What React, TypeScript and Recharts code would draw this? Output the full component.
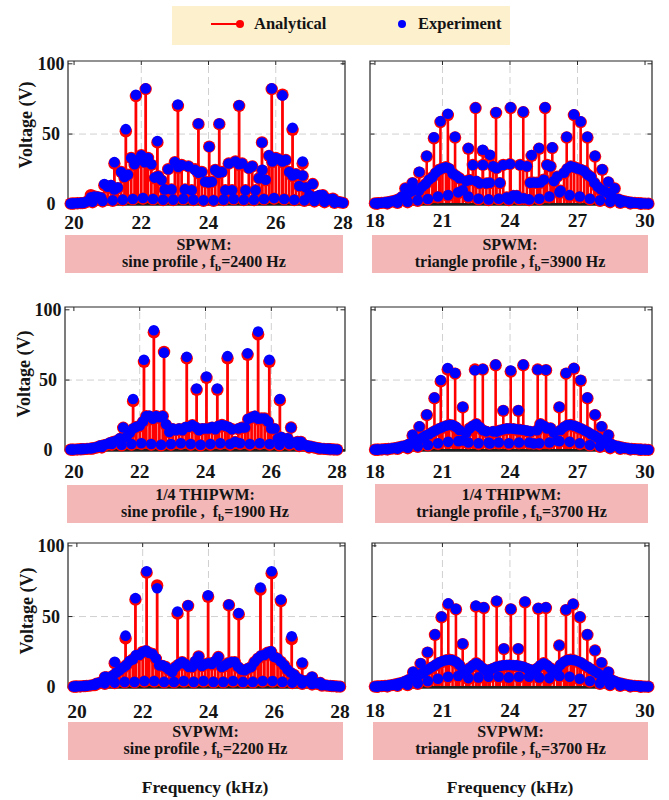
import React from 'react'
import { ComposedChart, Scatter, ErrorBar, XAxis, YAxis, ReferenceLine, ReferenceArea } from 'recharts'

const FONT = '"Liberation Serif", "Times New Roman", Times, serif'
const RED = '#ff0000'
const BLUE = '#0000ff'
const INK = '#141414'

// shared frequency grids (kHz)
const sineTicks = [20, 22, 24, 26, 28]
const triTicks = [18, 21, 24, 27, 30]
const voltTicks = [0, 50, 100]

const sineGrid = [
  19.9, 20, 20.1, 20.2, 20.3, 20.4, 20.5, 20.6, 20.7, 20.8,
  20.9, 21, 21.1, 21.2, 21.3, 21.4, 21.5, 21.6, 21.7, 21.8,
  21.9, 22, 22.1, 22.2, 22.3, 22.4, 22.5, 22.6, 22.7, 22.8,
  22.9, 23, 23.1, 23.2, 23.3, 23.4, 23.5, 23.6, 23.7, 23.8,
  23.9, 24, 24.1, 24.2, 24.3, 24.4, 24.5, 24.6, 24.7, 24.8,
  24.9, 25, 25.1, 25.2, 25.3, 25.4, 25.5, 25.6, 25.7, 25.8,
  25.9, 26, 26.1, 26.2, 26.3, 26.4, 26.5, 26.6, 26.7, 26.8,
  26.9, 27, 27.1, 27.2, 27.3, 27.4, 27.5, 27.6, 27.7, 27.8,
  27.9, 28,
]
const sineLow = [
  19.95, 20.25, 20.55, 20.85, 21.15, 21.45, 21.75, 22.05, 22.35, 22.65,
  22.95, 23.25, 23.55, 23.85, 24.15, 24.45, 24.75, 25.05, 25.35, 25.65,
  25.95, 26.25, 26.55, 26.85, 27.15, 27.45, 27.75,
]
const triGrid = [
  18, 18.15, 18.3, 18.45, 18.6, 18.75, 18.9, 19.05, 19.2, 19.35,
  19.5, 19.65, 19.8, 19.95, 20.1, 20.25, 20.4, 20.55, 20.7, 20.85,
  21, 21.15, 21.3, 21.45, 21.6, 21.75, 21.9, 22.05, 22.2, 22.35,
  22.5, 22.65, 22.8, 22.95, 23.1, 23.25, 23.4, 23.55, 23.7, 23.85,
  24, 24.15, 24.3, 24.45, 24.6, 24.75, 24.9, 25.05, 25.2, 25.35,
  25.5, 25.65, 25.8, 25.95, 26.1, 26.25, 26.4, 26.55, 26.7, 26.85,
  27, 27.15, 27.3, 27.45, 27.6, 27.75, 27.9, 28.05, 28.2, 28.35,
  28.5, 28.65, 28.8, 28.95, 29.1, 29.25, 29.4, 29.55, 29.7, 29.85,
  30, 30.15,
]
const triLow = [
  18.1, 18.55, 19, 19.45, 19.9, 20.35, 20.8, 21.25, 21.7, 22.15,
  22.6, 23.05, 23.5, 23.95, 24.4, 24.85, 25.3, 25.75, 26.2, 26.65,
  27.1, 27.55, 28, 28.45, 28.9, 29.35, 29.8,
]

// SPWM, sine profile, fb = 2400 Hz
const spwmSineGridA = [
  0.5, 0.6, 0.7, 0.8, 1, 2, 6.5, 5.5, 5, 4.5,
  13.5, 12, 13, 10, 11.5, 23, 19, 21, 33, 28,
  31, 35, 30, 33, 28, 18.5, 20, 17, 10.5, 25,
  10.5, 30, 26, 28, 10.5, 27, 10, 25, 22, 23,
  16, 15.5, 16, 24.5, 22, 23, 10, 29, 10, 30.5,
  28, 29, 10, 25.7, 27, 10, 18.5, 24, 17, 34.5,
  30, 33, 32, 30, 31.5, 23, 20, 21.5, 13, 20,
  12, 6, 14.4, 5, 6, 6.5, 4, 3, 4, 2,
  1.5, 1,
]
const spwmSineGridE = [
  0.6, 0.7, 0.8, 1, 1.2, 2.2, 5, 5.5, 5.3, 4.8,
  14.4, 12.5, 13.7, 10.5, 12, 23, 19.5, 21, 33, 28.5,
  31.5, 34.8, 30, 33, 28.5, 19, 20, 17.3, 10.6, 25,
  10.6, 30, 26.5, 28, 10.6, 27, 10, 24.5, 22.5, 23,
  16, 15.6, 16, 24.5, 22.5, 23, 10, 29, 10, 30.5,
  28.5, 29, 10, 25.7, 27, 10, 18.5, 24.5, 17.5, 34.8,
  30.5, 33, 32, 30.5, 31.6, 23, 20.5, 21.6, 13, 20.5,
  12, 6.5, 14.4, 5.5, 6.5, 6.5, 4, 3.5, 4, 2.2,
  1.6, 1.1,
]
const spwmSineLowA = [0.5, 0.8, 1.5, 2, 2.5, 3, 3.5, 4, 3.5, 3, 3, 3.5, 3, 2.5, 2.5, 3, 3.5, 3, 3, 3.5, 4, 3.5, 3, 2.5, 2, 1.5, 1]
const spwmSineLowE = [0.6, 1, 1.8, 2.3, 2.8, 3.3, 3.8, 4.5, 3.8, 3.2, 3.3, 3.8, 3.2, 2.8, 2.8, 3.3, 3.8, 3.2, 3.3, 3.8, 4.4, 3.8, 3.2, 2.8, 2.3, 1.8, 1.2]
const spwmSinePeakF = [21.2, 21.54, 21.84, 22.13, 22.48, 23.09, 23.7, 24.02, 24.32, 24.91, 25.59, 25.88, 26.2, 26.5, 26.8]
const spwmSinePeakA = [29, 52, 77, 82, 44, 70, 57, 41, 57, 70, 44, 82, 78, 53, 29]
const spwmSinePeakE = [30, 53.5, 78, 82.5, 45, 71, 57.5, 41, 57.5, 70.5, 44, 82.5, 77.5, 54.5, 30.5]

// SPWM, triangle profile, fb = 3900 Hz
const spwmTriGridA = [
  0.6, 0.8, 1, 1.2, 1.5, 2, 2.5, 3.5, 5, 11.3,
  7.5, 9, 10, 9, 12, 14.4, 17, 19.2, 22, 24.5,
  25.5, 26.4, 25, 22, 20, 18.5, 10, 16, 17.3, 28,
  16, 14.9, 28, 14.9, 15, 27, 25.7, 15, 28, 4.8,
  28.6, 6, 6, 28, 4, 27, 15.3, 15.3, 15.3, 15.3,
  17.5, 28, 27, 16, 19.7, 9.6, 22, 25, 27, 26.4,
  25.5, 24.5, 23.6, 21, 19.2, 15, 12, 10, 9, 7.5,
  6, 11.3, 3.5, 2.5, 2, 1.5, 1.2, 1, 0.8, 0.6,
  0.5, 0.4,
]
const spwmTriGridE = [
  0.7, 0.9, 1.1, 1.4, 1.7, 2.2, 2.8, 3.8, 5.5, 11.3,
  8, 9.5, 10.5, 9.5, 12.5, 14.4, 17.5, 19.2, 22.5, 24.5,
  25.7, 26.4, 25.5, 22, 20.5, 18.5, 10, 16.5, 17.3, 28,
  16.5, 14.9, 28, 14.9, 15.3, 27, 25.7, 15.3, 28, 4.8,
  28.6, 6.3, 6.3, 28, 4.3, 27, 15.3, 15.5, 15.3, 15.5,
  17.5, 28, 27, 16.5, 19.7, 9.6, 22.5, 25.5, 27, 26.4,
  25.5, 24.8, 23.6, 21, 19.5, 15.3, 12.5, 10.5, 9.3, 8,
  6.5, 11.3, 3.8, 2.8, 2.2, 1.7, 1.4, 1.1, 0.9, 0.7,
  0.6, 0.5,
]
const spwmTriLowA = [0.4, 0.6, 1, 1.5, 2.5, 3.5, 5, 6, 8, 5, 3.5, 3, 3.5, 3, 3.5, 3, 3.5, 5, 8, 6, 5, 3.5, 2.5, 1.5, 1, 0.6, 0.4]
const spwmTriLowE = [0.5, 0.7, 1.2, 1.8, 2.8, 3.8, 5.5, 6.5, 8.5, 5.5, 4, 3.5, 4, 3.5, 4, 3.5, 4, 5.5, 8.5, 6.5, 5.5, 4, 2.8, 1.8, 1.2, 0.7, 0.5]
const spwmTriPeakF = [19.67, 19.97, 20.3, 20.62, 20.91, 21.24, 21.56, 22.15, 22.47, 22.79, 23.11, 23.38, 24.03, 24.59, 24.96, 25.29, 25.56, 25.88, 26.52, 26.84, 27.14, 27.44, 27.78, 28.1, 28.37]
const spwmTriPeakA = [15, 22.5, 34, 47, 58.5, 63.5, 47.5, 39.5, 68.5, 38, 34.5, 65, 68.5, 65.5, 34.5, 39.5, 68.5, 40, 47.5, 63.5, 58.5, 47.5, 34, 24.5, 15.5]
const spwmTriPeakE = [15.3, 23.2, 34.5, 47.7, 59.2, 64.5, 48, 40, 68.8, 38.8, 35.2, 65.5, 69, 66, 35, 40, 69, 40.5, 48, 64, 59, 48, 34.5, 25, 16]

// 1/4 THIPWM, sine profile, fb = 1900 Hz
const thiSineGridA = [
  0.5, 0.5, 0.6, 0.7, 0.8, 1, 1.2, 1.5, 2, 3,
  3.5, 4, 5, 6, 6.5, 8, 16, 9.5, 12, 15,
  16.7, 17, 20, 24.3, 24, 22, 24.3, 23, 24.3, 18,
  13, 15, 14.3, 15, 14.3, 16, 16.7, 17.9, 16, 14.3,
  15, 15, 15.5, 16, 15, 17, 18, 17, 16, 15,
  6, 15, 16, 16.2, 22, 23.3, 24, 22, 22.6, 22.6,
  20, 15.5, 15, 8.3, 9, 7.6, 8, 16.2, 5, 6,
  6, 3.5, 3, 2.5, 2, 1.5, 1.2, 1, 0.8, 0.7,
  0.6, 0.5,
]
const thiSineGridE = [
  0.6, 0.6, 0.7, 0.8, 1, 1.2, 1.4, 1.8, 2.3, 3.3,
  3.8, 4.5, 5.5, 6, 7, 8.5, 16.2, 9.5, 12.5, 15.5,
  16.7, 17.5, 20.5, 24.3, 24.5, 22.5, 24.3, 23.5, 24.3, 18.5,
  13, 15.5, 14.3, 15.5, 14.3, 16.5, 16.7, 17.9, 16.5, 14.3,
  15.5, 15.5, 15.5, 16.5, 15, 17.5, 18, 17.5, 16.5, 15,
  6, 15.5, 16.2, 16.2, 22.5, 23.3, 24.5, 22.5, 22.6, 22.6,
  20.5, 15.5, 15.5, 8.3, 9.5, 7.6, 8.5, 16.2, 5.5, 6,
  6, 4, 3.3, 2.8, 2.3, 1.8, 1.4, 1.2, 1, 0.8,
  0.7, 0.6,
]
const thiSineLowA = [0.5, 0.8, 1.2, 2, 4, 3.5, 4, 4.5, 4, 3.5, 4, 4.5, 4, 3.5, 4, 4.5, 4, 4.5, 4, 4.5, 4, 3.5, 4, 3, 2, 1.2, 0.8]
const thiSineLowE = [0.6, 1, 1.5, 2.3, 4.5, 4, 4.5, 5, 4.5, 4, 4.5, 5, 4.5, 4, 4.5, 5, 4.5, 5, 4.5, 5, 4.5, 4, 4.5, 3.5, 2.3, 1.5, 1]
const thiSinePeakF = [21.8, 22.13, 22.43, 22.74, 23.43, 23.73, 24.03, 24.36, 24.67, 25.28, 25.6, 25.94, 26.26]
const thiSinePeakA = [35, 63, 84, 70, 65.5, 43, 51.5, 43, 65.5, 68, 82.5, 63, 35.5]
const thiSinePeakE = [36.5, 64.5, 85.5, 69.5, 66.5, 44, 52.5, 44, 67, 69, 84.5, 64.5, 36.5]

// 1/4 THIPWM, triangle profile, fb = 3700 Hz
const thiTriGridA = [
  0.4, 0.5, 0.6, 0.8, 1, 1.2, 1.5, 2, 2.5, 3,
  4, 5, 6, 7, 8.5, 10, 11, 12.5, 14, 15,
  16, 17, 18, 17.5, 16, 14, 7, 12, 15.5, 17,
  18.6, 16, 14, 13, 4.8, 13, 13, 14, 14.5, 15,
  15, 15, 14.5, 14.5, 14, 13.5, 13, 4.8, 14, 18.6,
  17, 15.5, 15.5, 12, 7, 14, 16, 17.5, 18, 17,
  16, 15, 14, 12.5, 11, 10, 8.5, 7, 6, 5,
  4, 3, 2.5, 2, 1.5, 1.2, 1, 0.8, 0.6, 0.5,
  0.4, 0.3,
]
const thiTriGridE = [
  0.5, 0.6, 0.7, 0.9, 1.1, 1.4, 1.7, 2.2, 2.8, 3.3,
  4.4, 5.5, 6.5, 7.5, 9, 10.5, 11.5, 13, 14.3, 15.5,
  16.5, 17.5, 18, 17.9, 16.5, 14.5, 7, 12.5, 15.5, 17.5,
  18.6, 16.5, 14.3, 13.5, 4.8, 13.5, 13.3, 14.3, 15, 15.5,
  15.5, 15.3, 15, 14.8, 14.5, 14, 13.5, 4.8, 14.3, 18.6,
  17.5, 15.5, 15.8, 12.5, 7, 14.5, 16.5, 17.9, 18, 17.5,
  16.5, 15.5, 14.3, 13, 11.5, 10.5, 9, 7.5, 6.5, 5.5,
  4.4, 3.3, 2.8, 2.2, 1.7, 1.4, 1.1, 0.9, 0.7, 0.6,
  0.5, 0.4,
]
const thiTriLowA = [0.4, 0.6, 1, 1.5, 2.5, 3.5, 4.5, 5.5, 6, 5, 4.5, 5, 5, 4.5, 5, 5, 4.5, 5, 6, 5.5, 4.5, 3.5, 2.5, 1.5, 1, 0.6, 0.4]
const thiTriLowE = [0.5, 0.7, 1.2, 1.8, 2.8, 3.8, 5, 6, 6.5, 5.5, 5, 5.5, 5.5, 5, 5.5, 5.5, 5, 5.5, 6.5, 6, 5, 3.8, 2.8, 1.8, 1.2, 0.7, 0.5]
const thiTriPeakF = [19.67, 19.97, 20.3, 20.64, 20.92, 21.23, 21.56, 21.9, 22.44, 22.79, 23.36, 23.7, 24.03, 24.37, 24.59, 25.23, 25.6, 26.19, 26.49, 26.84, 27.14, 27.44, 27.78, 28.07, 28.37]
const thiTriPeakA = [10.5, 16.5, 25, 37, 49, 57.5, 54.5, 30.5, 57.5, 57.5, 60.5, 28, 56, 28, 60.5, 57.5, 57, 30.5, 54.5, 58, 49.5, 37, 25, 16.5, 10.5]
const thiTriPeakE = [11, 17, 25.5, 37.5, 50, 58.5, 55, 31, 57, 57.8, 61, 28.5, 56.8, 28.5, 61, 57.5, 57.3, 31, 55, 58.5, 50, 37.5, 25.5, 17, 11]

// SVPWM, sine profile, fb = 2200 Hz
const svSineGridA = [
  0.5, 0.6, 0.6, 0.8, 1, 1.2, 1.5, 2.5, 3, 4,
  7, 6, 8, 10, 12, 13.5, 15.5, 18, 19.7, 22,
  22.8, 25, 25.5, 24.2, 23.5, 20, 15.5, 15, 14.3, 12,
  10.8, 14.3, 16, 17.8, 16, 14, 14.3, 18, 21.8, 15,
  16, 17, 16, 18, 21.4, 14.3, 15, 17, 17.5, 17.8,
  14, 12.5, 12, 13, 14.3, 17.8, 20, 22, 22.8, 24.5,
  25, 21.4, 20, 18, 15.5, 12, 10, 8.8, 6, 5,
  4, 4.5, 3.5, 3, 2.5, 3, 1.5, 1.2, 1, 0.8,
  0.6, 0.5,
]
const svSineGridE = [
  0.6, 0.7, 0.7, 0.9, 1.1, 1.4, 1.8, 2.8, 3.4, 4.5,
  7.3, 6.5, 8.5, 10.5, 12, 14, 15.5, 18.5, 19.7, 22.8,
  22.8, 25, 26, 24.2, 23.5, 20.5, 15.5, 15.5, 14.3, 12.5,
  10.8, 14.3, 16.5, 17.8, 16.5, 14.3, 14.3, 18.5, 21.8, 15,
  16.5, 17, 16.5, 18.5, 21.4, 14.3, 15.5, 17, 17.8, 17.8,
  14.5, 12.5, 12, 13.5, 14.3, 17.8, 20.5, 22.5, 22.8, 24.5,
  25.5, 21.4, 20.5, 18, 15.5, 12.5, 10.5, 8.8, 6.5, 5.5,
  4.5, 4.8, 3.8, 3.3, 2.8, 3.3, 1.8, 1.4, 1.1, 0.9,
  0.7, 0.6,
]
const svSineLowA = [0.5, 0.8, 1.5, 2.5, 3, 3.5, 3.5, 4, 4, 3.5, 3.5, 4, 3.5, 4, 3.5, 3.5, 4, 3.5, 3.5, 4, 4, 3.5, 3, 2.5, 2, 1.2, 0.8]
const svSineLowE = [0.6, 1, 1.8, 2.8, 3.3, 3.8, 3.8, 4.4, 4.4, 3.8, 3.8, 4.4, 3.8, 4.4, 3.8, 3.8, 4.4, 3.8, 3.8, 4.4, 4.4, 3.8, 3.3, 2.8, 2.3, 1.5, 1]
const svSinePeakF = [20.85, 21.15, 21.48, 21.78, 22.12, 22.44, 23.06, 23.38, 23.99, 24.62, 24.92, 25.58, 25.92, 26.2, 26.53, 26.85, 27.15]
const svSinePeakA = [7, 17, 34.5, 62, 81, 72, 52, 57.5, 64, 58, 51.5, 69, 80.5, 61, 34, 16.5, 7]
const svSinePeakE = [7.5, 18, 36.5, 63, 82, 70, 53.5, 58, 65, 58.5, 52.5, 70.5, 82, 62, 36, 17.5, 7.5]

// SVPWM, triangle profile, fb = 3700 Hz
const svTriGridA = [
  0.5, 0.6, 0.8, 1, 1.2, 1.5, 2, 2.5, 3, 4,
  5, 6, 7, 8, 9.5, 11, 12.5, 14, 15.5, 17,
  18, 19, 19.5, 19, 17.5, 15.5, 12, 10, 13.4, 15,
  17, 15, 13, 11, 12, 13, 14, 14.5, 15, 15,
  15.5, 15, 15, 14.5, 14, 13, 12, 11, 13, 15,
  17, 15, 13.4, 10, 12, 15.5, 17.5, 19, 19.5, 19,
  18, 17, 15.5, 14, 12.5, 11, 9.5, 8, 7, 6,
  5, 4, 3, 2.5, 2, 1.5, 1.2, 1, 0.8, 0.6,
  0.5, 0.4,
]
const svTriGridE = [
  0.6, 0.7, 0.9, 1.1, 1.4, 1.7, 2.2, 2.8, 3.3, 4.4,
  5.5, 6.5, 7.5, 8.5, 10, 11.5, 13, 14.5, 16, 17.5,
  18.5, 19.2, 19.5, 19.2, 18, 16, 12.5, 10.5, 13.4, 15.5,
  17, 15.5, 13.4, 11.5, 12.5, 13.4, 14.5, 15, 15.5, 15.7,
  15.7, 15.5, 15.5, 15, 14.5, 13.4, 12.5, 11.5, 13.4, 15.5,
  17, 15.5, 13.4, 10.5, 12.5, 16, 18, 19.2, 19.5, 19.2,
  18.5, 17.5, 16, 14.5, 13, 11.5, 10, 8.5, 7.5, 6.5,
  5.5, 4.4, 3.3, 2.8, 2.2, 1.7, 1.4, 1.1, 0.9, 0.7,
  0.6, 0.5,
]
const svTriLowA = [0.4, 0.6, 1, 1.5, 2.5, 4, 5.5, 7, 7.5, 6, 6.5, 7, 7, 6.5, 7, 7, 6.5, 6, 7.5, 7, 5.5, 4, 2.5, 1.5, 1, 0.6, 0.4]
const svTriLowE = [0.5, 0.7, 1.2, 1.8, 2.8, 4.4, 6, 7.5, 8, 6.5, 7, 7.5, 7.5, 7, 7.5, 7.5, 7, 6.5, 8, 7.5, 6, 4.4, 2.8, 1.8, 1.2, 0.7, 0.5]
const svTriPeakF = [19.7, 20.03, 20.34, 20.67, 20.96, 21.26, 21.6, 21.9, 22.49, 22.84, 23.41, 23.73, 24.04, 24.37, 24.67, 25.26, 25.6, 26.19, 26.49, 26.81, 27.11, 27.44, 27.78, 28.07, 28.37]
const svTriPeakA = [10.5, 16.5, 24.5, 37, 49.5, 58.5, 55, 30.5, 57, 56, 60.5, 27, 55, 27, 60, 55.5, 56, 29.5, 54.5, 58.5, 49.5, 37, 26, 17, 10.5]
const svTriPeakE = [11, 17, 25, 37.4, 50, 59.3, 55.4, 30.9, 57.7, 56.6, 61.2, 27.4, 55.4, 27.4, 60.6, 56, 56.6, 29.7, 55, 59, 50, 37.4, 26.2, 17.5, 11]

type Row = { f: number; a: number; e: number; stem: [number, number] }
type Part = [number[], number[], number[]]

function buildRows(parts: Part[]): Row[] {
  const rows: Row[] = []
  parts.forEach(([fs, as, es]) => {
    fs.forEach((f, i) => rows.push({ f, a: as[i], e: es[i], stem: [as[i], 0] }))
  })
  return rows.sort((p, q) => p.f - q.f)
}

const Y_MIN = -0.5
const Y_MAX = 102
const Y_AXIS_W = 40
const X_AXIS_H = 36
const M_TOP = 16
const M_RIGHT = 10

const panels = [
  {
    id: 'spwm-sine', left: 68, top: 61, w: 277, h: 144, domain: [19.82, 28.06], ticks: sineTicks,
    tickGap: 17, showY: true, stemW: 2.8,
    title: 'SPWM:', profile: 'sine profile , f', fb: '=2400 Hz', box: [65, 235, 278, 38],
    rows: buildRows([[sineGrid, spwmSineGridA, spwmSineGridE], [sineLow, spwmSineLowA, spwmSineLowE], [spwmSinePeakF, spwmSinePeakA, spwmSinePeakE]]),
  },
  {
    id: 'spwm-tri', left: 370, top: 61, w: 282, h: 144, domain: [17.78, 30.31], ticks: triTicks,
    tickGap: 15, showY: false, stemW: 2.6,
    title: 'SPWM:', profile: 'triangle profile , f', fb: '=3900 Hz', box: [372, 235, 276, 38],
    rows: buildRows([[triGrid, spwmTriGridA, spwmTriGridE], [triLow, spwmTriLowA, spwmTriLowE], [spwmTriPeakF, spwmTriPeakA, spwmTriPeakE]]),
  },
  {
    id: 'thi-sine', left: 65, top: 307, w: 280, h: 144, domain: [19.73, 28.24], ticks: sineTicks,
    tickGap: 20, showY: true, stemW: 2.8,
    title: '1/4 THIPWM:', profile: 'sine profile ,  f', fb: '=1900 Hz', box: [67, 485, 276, 38],
    rows: buildRows([[sineGrid, thiSineGridA, thiSineGridE], [sineLow, thiSineLowA, thiSineLowE], [thiSinePeakF, thiSinePeakA, thiSinePeakE]]),
  },
  {
    id: 'thi-tri', left: 371, top: 307, w: 281, h: 144, domain: [17.82, 30.31], ticks: triTicks,
    tickGap: 20, showY: false, stemW: 2.6,
    title: '1/4 THIPWM:', profile: 'triangle profile , f', fb: '=3700 Hz', box: [375, 484, 273, 39],
    rows: buildRows([[triGrid, thiTriGridA, thiTriGridE], [triLow, thiTriLowA, thiTriLowE], [thiTriPeakF, thiTriPeakA, thiTriPeakE]]),
  },
  {
    id: 'sv-sine', left: 68, top: 543, w: 277, h: 145, domain: [19.73, 28.15], ticks: sineTicks,
    tickGap: 23, showY: true, stemW: 2.8,
    title: 'SVPWM:', profile: 'sine profile , f', fb: '=2200 Hz', box: [68, 722, 275, 38],
    rows: buildRows([[sineGrid, svSineGridA, svSineGridE], [sineLow, svSineLowA, svSineLowE], [svSinePeakF, svSinePeakA, svSinePeakE]]),
  },
  {
    id: 'sv-tri', left: 372, top: 543, w: 277, h: 145, domain: [17.87, 30.18], ticks: triTicks,
    tickGap: 22, showY: false, stemW: 2.6,
    title: 'SVPWM:', profile: 'triangle profile , f', fb: '=3700 Hz', box: [373, 722, 275, 38],
    rows: buildRows([[triGrid, svTriGridA, svTriGridE], [triLow, svTriLowA, svTriLowE], [svTriPeakF, svTriPeakA, svTriPeakE]]),
  },
]

const RedDot = (p: any) => <circle cx={p.cx} cy={p.cy} r={6.2} fill={RED} />
const BlueDot = (p: any) => <circle cx={p.cx} cy={p.cy} r={5.3} fill={BLUE} />

const XTick = (p: any) => (
  <text x={p.x} y={p.y} textAnchor="middle" dominantBaseline="central" fontFamily={FONT} fontWeight="bold" fontSize={19.5} fill={INK}>
    {p.payload.value}
  </text>
)
const YTick = (p: any) => (
  <text x={p.x} y={p.y} textAnchor="middle" dominantBaseline="central" fontFamily={FONT} fontWeight="bold" fontSize={18} fill={INK}>
    {p.payload.value}
  </text>
)

const GRID = '#d0d0d0'
const FRAME = '#262626'

function Panel({ p }: { p: (typeof panels)[number] }) {
  const [x0, x1] = p.domain
  const tx = (x1 - x0) * 0.016
  const ty = (Y_MAX - Y_MIN) * 0.028
  const inner = p.ticks.slice(1, -1)
  return (
    <div style={{ position: 'absolute', left: p.left - Y_AXIS_W, top: p.top - M_TOP }}>
      <ComposedChart
        width={p.w + Y_AXIS_W + M_RIGHT}
        height={p.h + M_TOP + X_AXIS_H}
        margin={{ top: M_TOP, right: M_RIGHT, bottom: 0, left: 0 }}
      >
        <XAxis
          type="number" dataKey="f" domain={p.domain} ticks={p.ticks} interval={0}
          height={X_AXIS_H} axisLine={false} tickLine={false} tickSize={0} tickMargin={p.tickGap} tick={XTick}
        />
        <YAxis
          type="number" domain={[Y_MIN, Y_MAX]} ticks={voltTicks} interval={0}
          width={Y_AXIS_W} axisLine={false} tickLine={false} tickSize={0} tickMargin={17}
          tick={p.showY ? YTick : false}
        />
        {inner.map(g => (
          <ReferenceLine key={'g' + g} x={g} stroke={GRID} strokeDasharray="7 4" strokeWidth={1} />
        ))}
        <ReferenceLine y={50} stroke={GRID} strokeDasharray="7 4" strokeWidth={1} />
        {/* inward tick marks */}
        {p.ticks.map(t => (
          <ReferenceLine key={'tb' + t} segment={[{ x: t, y: Y_MIN }, { x: t, y: Y_MIN + ty }]} stroke={FRAME} strokeWidth={1} />
        ))}
        {p.ticks.map(t => (
          <ReferenceLine key={'tt' + t} segment={[{ x: t, y: Y_MAX }, { x: t, y: Y_MAX - ty }]} stroke={FRAME} strokeWidth={1} />
        ))}
        {voltTicks.map(t => (
          <ReferenceLine key={'tl' + t} segment={[{ x: x0, y: t }, { x: x0 + tx, y: t }]} stroke={FRAME} strokeWidth={1} />
        ))}
        {voltTicks.map(t => (
          <ReferenceLine key={'tr' + t} segment={[{ x: x1, y: t }, { x: x1 - tx, y: t }]} stroke={FRAME} strokeWidth={1} />
        ))}
        <ReferenceArea x1={x0} x2={x1} y1={Y_MIN} y2={Y_MAX} fill="none" stroke={FRAME} strokeWidth={1.2} />
        <Scatter data={p.rows} dataKey="a" isAnimationActive={false} shape={RedDot} legendType="none">
          <ErrorBar dataKey="stem" direction="y" width={0} stroke={RED} strokeWidth={p.stemW} isAnimationActive={false} />
        </Scatter>
        <Scatter data={p.rows} dataKey="e" isAnimationActive={false} shape={BlueDot} legendType="none" />
        <ReferenceLine y={0} stroke="#1e1e1e" strokeWidth={2.5} />
      </ComposedChart>
    </div>
  )
}

function Caption({ p }: { p: (typeof panels)[number] }) {
  const [x, y, w, h] = p.box
  return (
    <div
      style={{
        position: 'absolute', left: x, top: y, width: w, height: h, background: '#f3b7b7',
        display: 'flex', flexDirection: 'column', alignItems: 'center', justifyContent: 'center',
        fontFamily: FONT, fontWeight: 'bold', fontSize: 16, lineHeight: '17px', color: INK, whiteSpace: 'pre',
      }}
    >
      <div>{p.title}</div>
      <div>
        {p.profile}
        <span style={{ fontSize: 11, position: 'relative', top: 4 }}>b</span>
        {p.fb}
      </div>
    </div>
  )
}

const textStyle: React.CSSProperties = { fontFamily: FONT, fontWeight: 'bold', color: INK, position: 'absolute', whiteSpace: 'nowrap' }

export default function App() {
  return (
    <div style={{ position: 'absolute', left: 0, top: 0, width: 669, height: 800, background: '#fff', overflow: 'hidden' }}>
      {/* legend */}
      <div style={{ position: 'absolute', left: 172, top: 6, width: 338, height: 39, background: '#fdf0cd' }}>
        <div style={{ position: 'absolute', left: 39, top: 17, width: 30, height: 2, background: RED }} />
        <div style={{ position: 'absolute', left: 64, top: 14, width: 8, height: 8, borderRadius: 4, background: RED }} />
        <div style={{ ...textStyle, left: 82, top: 8, fontSize: 16.5, lineHeight: '20px' }}>Analytical</div>
        <div style={{ position: 'absolute', left: 226, top: 14, width: 8, height: 8, borderRadius: 4, background: BLUE }} />
        <div style={{ ...textStyle, left: 246, top: 8, fontSize: 16.5, lineHeight: '20px' }}>Experiment</div>
      </div>

      {panels.map(p => (
        <Panel key={p.id} p={p} />
      ))}
      {panels.map(p => (
        <Caption key={p.id + '-cap'} p={p} />
      ))}

      {[125, 374, 611].map((cy, i) => (
        <div
          key={'vl' + i}
          style={{ ...textStyle, left: [26, 24, 27][i] - 60, top: cy - 10, width: 120, textAlign: 'center', fontSize: 18, lineHeight: '20px', transform: 'rotate(-90deg)' }}
        >
          Voltage (V)
        </div>
      ))}
      <div style={{ ...textStyle, left: 105, top: 777, width: 200, textAlign: 'center', fontSize: 17.5, lineHeight: '20px' }}>Frequency (kHz)</div>
      <div style={{ ...textStyle, left: 410, top: 777, width: 200, textAlign: 'center', fontSize: 17.5, lineHeight: '20px' }}>Frequency (kHz)</div>
    </div>
  )
}
